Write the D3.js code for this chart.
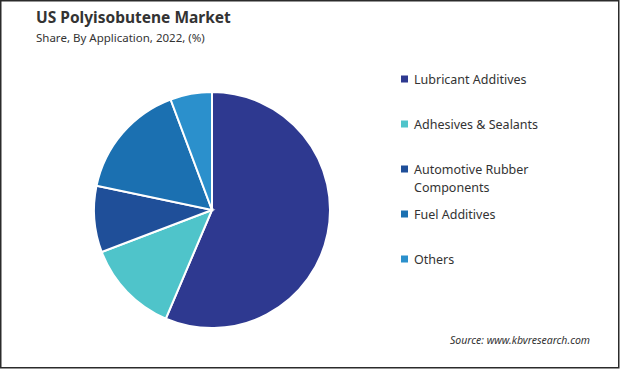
<!DOCTYPE html>
<meta charset="utf-8">
<script src="https://d3js.org/d3.v7.min.js"></script>
<style>
  body { margin: 0; background: #fff; }
  text { font-family: "Noto Sans", Roboto, sans-serif; }
</style>
<div id="chart"></div>
<script>
// data
let categories = ["Lubricant Additives", "Adhesives & Sealants", "Automotive Rubber Components", "Fuel Additives", "Others"];
let shares = [56.4, 12.8, 9.1, 16.0, 5.7];
let colors = ["#2e3990", "#4fc4ca", "#1f4f99", "#1b70b1", "#2b90cc"];
// legend labels, split over lines like the original
let legendLines = [["Lubricant Additives"], ["Adhesives & Sealants"], ["Automotive Rubber", "Components"], ["Fuel Additives"], ["Others"]];

let width = 620, height = 369;

let svg = d3.select("#chart")
  .append("svg")
  .attr("width", width)
  .attr("height", height);

// frame
svg.append("rect")
  .attr("x", 0.75).attr("y", 0.75)
  .attr("width", width - 2).attr("height", height - 2)
  .attr("fill", "#fff")
  .attr("stroke", "#2b2b2b")
  .attr("stroke-width", 1.5);

// titles
svg.append("text")
  .attr("x", 36).attr("y", 23)
  .attr("font-size", 15.5)
  .attr("font-weight", "bold")
  .attr("fill", "#333")
  .text("US Polyisobutene  Market");

svg.append("text")
  .attr("x", 36).attr("y", 42)
  .attr("font-size", 11.5)
  .attr("fill", "#333")
  .text("Share, By Application, 2022, (%)");

// pie
let radius = 118;
let g = svg.append("g")
  .attr("transform", "translate(212,210)");

let pie = d3.pie().sort(null).value(d => d);
let arc = d3.arc().innerRadius(0).outerRadius(radius);

g.selectAll("path")
  .data(pie(shares))
  .join("path")
  .attr("d", arc)
  .attr("fill", (d, i) => colors[i])
  .attr("stroke", "#fff")
  .attr("stroke-width", 2);

// legend
let legendY = d3.scalePoint()
  .domain(categories)
  .range([80, 260]);

let legend = svg.append("g");
categories.forEach(function(c, i) {
  let y = legendY(c);
  legend.append("rect")
    .attr("x", 401).attr("y", y - 4.5)
    .attr("width", 7).attr("height", 7)
    .attr("fill", colors[i]);
  let t = legend.append("text")
    .attr("x", 414).attr("y", y)
    .attr("dy", "0.35em")
    .attr("font-size", 12.5)
    .attr("fill", "#333");
  legendLines[i].forEach(function(line, j) {
    t.append("tspan")
      .attr("x", 414)
      .attr("dy", j === 0 ? "0.35em" : "1.4em")
      .text(line);
  });
  t.attr("dy", null);
});

// source
svg.append("text")
  .attr("x", 590).attr("y", 344)
  .attr("text-anchor", "end")
  .attr("font-size", 10.5)
  .attr("font-style", "italic")
  .attr("fill", "#333")
  .text("Source: www.kbvresearch.com");
</script>
